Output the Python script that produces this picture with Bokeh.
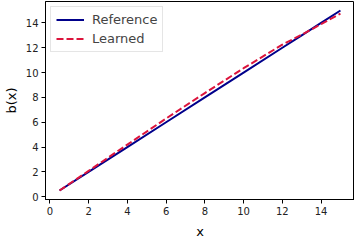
from bokeh.plotting import figure
from bokeh.models import Range1d, FixedTicker, Legend, LegendItem
from bokeh.embed import file_html
from bokeh.resources import INLINE

x_vals = [0.5, 2, 4, 6, 8, 10, 12, 13, 14, 15]
reference = [0.5, 2, 4, 6, 8, 10, 12, 13, 14, 15]
learned = [0.5, 2.08, 4.2, 6.3, 8.35, 10.35, 12.25, 13.05, 13.9, 14.75]
ticks = [0, 2, 4, 6, 8, 10, 12, 14]

p = figure(frame_width=309, frame_height=198, output_backend="svg", toolbar_location=None,
           x_range=Range1d(-0.225, 15.725), y_range=Range1d(-0.225, 15.725),
           min_border_left=0, min_border_right=0, min_border_top=1, min_border_bottom=0)
p.grid.visible = False
p.outline_line_color = "black"
p.outline_line_width = 1

r1 = p.line(x_vals, reference, line_color="#00008B", line_width=2)
r2 = p.line(x_vals, learned, line_color="#DC143C", line_width=2, line_dash="7 3")

for ax in (p.xaxis[0], p.yaxis[0]):
    ax.ticker = FixedTicker(ticks=ticks)
    ax.major_label_text_font = "DejaVu Sans"
    ax.major_label_text_font_size = "10px"
    ax.major_label_text_color = "#222222"
    ax.axis_label_text_font = "DejaVu Sans"
    ax.axis_label_text_font_size = "13px"
    ax.axis_label_text_font_style = "normal"
    ax.axis_label_text_color = "black"
    ax.minor_tick_line_color = None
    ax.major_tick_out = 4
    ax.major_tick_in = 0
    ax.major_label_standoff = 3
    ax.axis_label_standoff = 4
    ax.axis_line_color = "black"

p.xaxis.axis_label = "x"
p.yaxis.axis_label = "b(x)"
p.xaxis.axis_label_standoff = 6

legend = Legend(items=[LegendItem(label="Reference", renderers=[r1]),
                       LegendItem(label="Learned", renderers=[r2])],
                location="top_left")
legend.label_text_font = "DejaVu Sans"
legend.label_text_font_size = "13px"
legend.border_line_color = "#cccccc"
legend.border_line_width = 1
legend.glyph_width = 28
legend.glyph_height = 15
legend.label_height = 15
legend.spacing = 4
legend.padding = 5
legend.margin = 5
legend.label_standoff = 8
p.add_layout(legend)

open("out.html", "w").write(file_html(p, INLINE))
